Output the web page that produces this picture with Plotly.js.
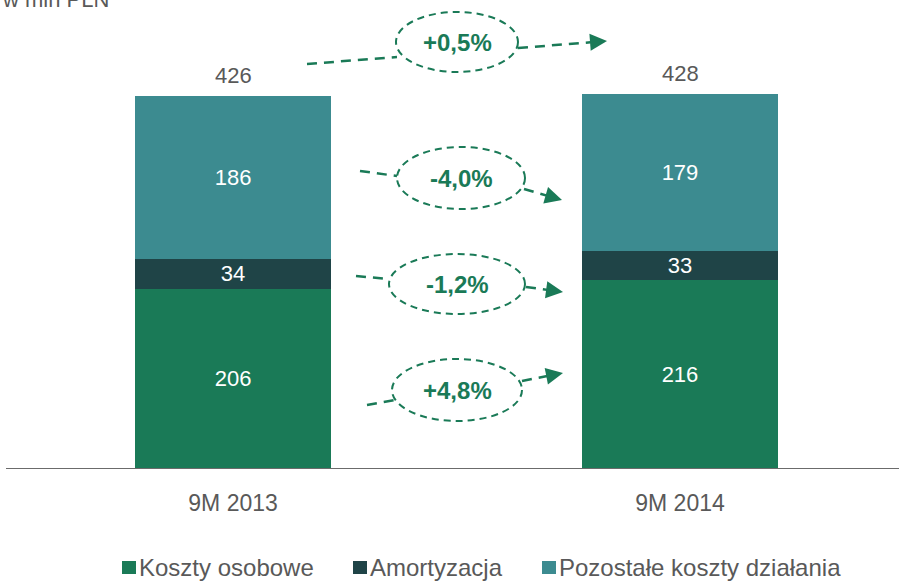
<!DOCTYPE html>
<html><head><meta charset="utf-8">
<script src="https://cdn.plot.ly/plotly-3.0.1.min.js"></script>
<style>body{margin:0;}#chart{width:899px;height:581px;}</style>
</head><body><div id="chart"></div>
<script>
const categories = ['9M 2013', '9M 2014'];
const osobowe = [206, 216];
const amortyzacja = [34, 33];
const pozostale = [186, 179];
const changeLabels = ['+0,5%', '-4,0%', '-1,2%', '+4,8%'];
const seriesNames = ['Koszty osobowe', 'Amortyzacja', 'Pozostałe koszty działania'];

const totals = categories.map((c, i) => osobowe[i] + amortyzacja[i] + pozostale[i]);
const xs = categories.map((c, i) => i);

const colors = ['#1a7a57', '#1f4447', '#3c8b90'];
const FONT = 'Liberation Sans, Arial, sans-serif';
const GREEN = '#1a7a57';
const GREY = '#595959';

function bar(vals, name, color) {
  return {type: 'bar', x: xs, y: vals, name: name, marker: {color: color},
    text: vals.map(String), textposition: 'inside', insidetextanchor: 'middle', textangle: 0, constraintext: 'none',
    textfont: {color: '#ffffff', size: 22, family: FONT}, hoverinfo: 'skip', width: 0.438, showlegend: false};
}
const traces = [
  bar(osobowe, seriesNames[0], colors[0]),
  bar(amortyzacja, seriesNames[1], colors[1]),
  bar(pozostale, seriesNames[2], colors[2])
];

// pixel -> paper helpers (plot area: x 6..899, y 31..469)
const L = 6, R = 899, T = 31, B = 469;
const px = v => (v - L) / (R - L);
const py = v => (B - v) / (B - T);

const annotations = [];
// totals above bars
xs.forEach((x, i) => annotations.push({xref: 'x', yref: 'y', x: x, y: totals[i], text: String(totals[i]),
  showarrow: false, yanchor: 'bottom', yshift: 6, font: {size: 22, color: GREY, family: FONT}}));

// ellipse callouts: [cx, cy, rx, ry]
const ellipses = [[457, 42, 61, 30], [461, 178, 64, 31], [457, 284, 68, 30], [457, 390, 65, 31]];
// connectors: left [x0,y0,x1,y1], right [x0,y0,x1,y1] (arrow end)
const connectors = [
  [[307, 64, 397, 57], [518, 48, 607, 41]],
  [[360, 171, 397, 176], [524, 189, 562, 200]],
  [[356, 276, 389, 279], [526, 287, 563, 292]],
  [[367, 405, 395, 400], [522, 381, 563, 373]]
];

const shapes = [{type: 'line', xref: 'paper', yref: 'y', x0: 0, x1: 1, y0: 0, y1: 0, line: {color: '#6b6b6b', width: 2}}];
ellipses.forEach((e, i) => {
  shapes.push({type: 'circle', xref: 'paper', yref: 'paper',
    x0: px(e[0] - e[2]), x1: px(e[0] + e[2]), y0: py(e[1] + e[3]), y1: py(e[1] - e[3]),
    line: {color: GREEN, width: 2, dash: '7px,5px'}, fillcolor: 'rgba(0,0,0,0)'});
  annotations.push({xref: 'paper', yref: 'paper', x: px(e[0]), y: py(e[1]), text: '<b>' + changeLabels[i] + '</b>',
    showarrow: false, font: {size: 24, color: GREEN, family: FONT}, xanchor: 'center', yanchor: 'middle'});
  const [l, r] = connectors[i];
  shapes.push({type: 'line', xref: 'paper', yref: 'paper', x0: px(l[0]), y0: py(l[1]), x1: px(l[2]), y1: py(l[3]),
    line: {color: GREEN, width: 2.5, dash: '10px,7px'}});
  const dx = r[2] - r[0], dy = r[3] - r[1], len = Math.hypot(dx, dy);
  const ex = r[2] - dx / len * 14, ey = r[3] - dy / len * 14;
  shapes.push({type: 'line', xref: 'paper', yref: 'paper', x0: px(r[0]), y0: py(r[1]), x1: px(ex), y1: py(ey),
    line: {color: GREEN, width: 2.5, dash: '10px,7px'}});
  annotations.push({xref: 'paper', yref: 'paper', x: px(r[2]), y: py(r[3]), ax: px(ex), ay: py(ey),
    axref: 'paper', ayref: 'paper', text: '', showarrow: true, arrowhead: 2, arrowsize: 1.7, arrowwidth: 2,
    arrowcolor: GREEN, standoff: 0});
});
// axis-unit title (partly cut at the top edge, as in the source)
annotations.push({xref: 'paper', yref: 'paper', x: px(0), y: py(-1), xanchor: 'left', yanchor: 'middle',
  text: 'w mln PLN', showarrow: false, font: {size: 22, color: GREY, family: FONT}});

// legend: colored squares + labels
const legendX = [122, 353, 542];
seriesNames.forEach((n, i) => {
  shapes.push({type: 'rect', xref: 'paper', yref: 'paper', x0: px(legendX[i]), x1: px(legendX[i] + 14),
    y0: py(574), y1: py(561), fillcolor: colors[i], line: {width: 0}});
  annotations.push({xref: 'paper', yref: 'paper', x: px(legendX[i] + 15), y: py(567),
    xanchor: 'left', yanchor: 'middle', showarrow: false, text: n, font: {size: 24, color: GREY, family: FONT}});
});

const layout = {
  width: 899, height: 581,
  margin: {l: L, r: 899 - R, t: T, b: 581 - B},
  paper_bgcolor: '#ffffff', plot_bgcolor: '#ffffff',
  barmode: 'stack', bargap: 0,
  showlegend: false,
  xaxis: {range: [-0.508, 1.49], tickvals: xs, ticktext: categories, showgrid: false, zeroline: false,
    showline: false, ticks: '', ticklabelstandoff: 18, tickfont: {size: 23, color: GREY, family: FONT}, fixedrange: true},
  yaxis: {range: [0, 500], visible: false, showgrid: false, zeroline: false},
  shapes: shapes,
  annotations: annotations
};
Plotly.newPlot('chart', traces, layout, {displayModeBar: false, staticPlot: true});
</script></body></html>
